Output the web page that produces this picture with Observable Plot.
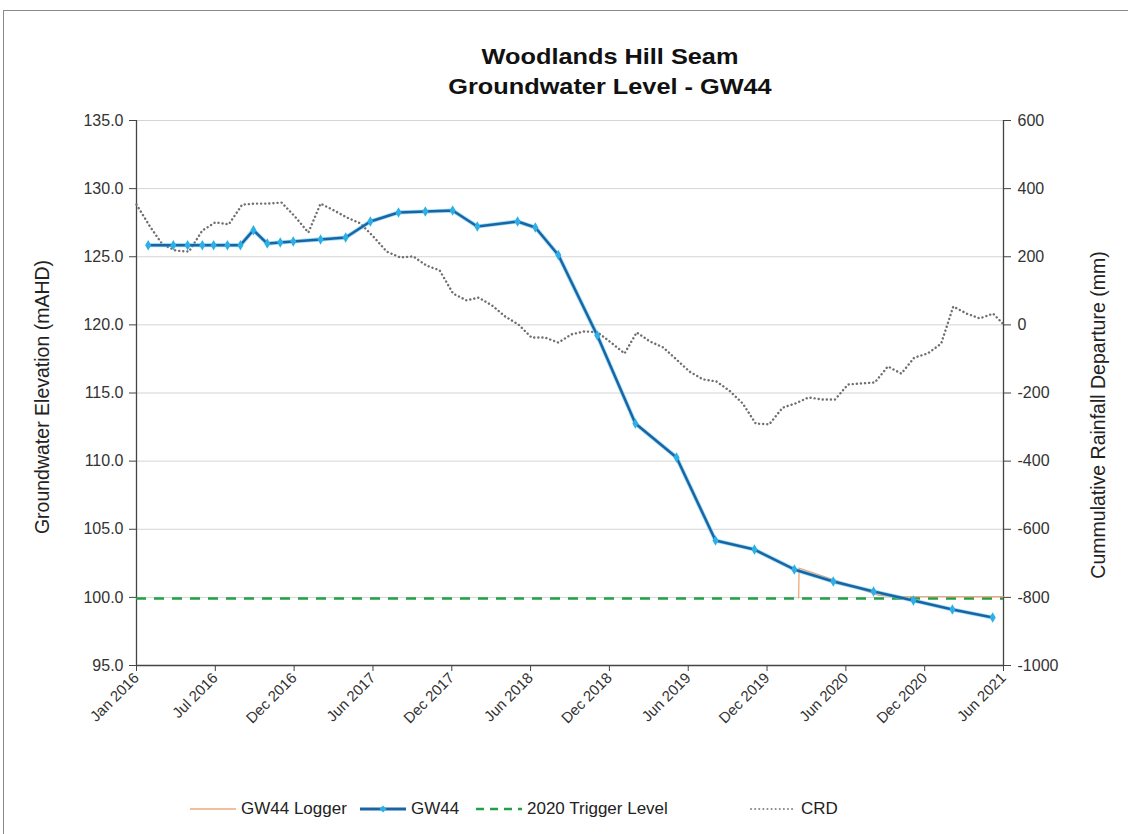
<!DOCTYPE html>
<html>
<head>
<meta charset="utf-8">
<script src="https://cdn.jsdelivr.net/npm/d3@7"></script>
<script src="https://cdn.jsdelivr.net/npm/@observablehq/plot@0.6"></script>
<style>
  html, body { margin:0; padding:0; background:#fff; width:1128px; height:834px; overflow:hidden; font-family:"Liberation Sans", Arial, sans-serif; }
  #frame { position:absolute; left:3px; top:10px; width:1300px; height:1000px; border:1px solid #8a8a8a; }
  #chart { position:absolute; left:0; top:0; }
  .title { position:absolute; left:610px; transform:translateX(-50%) scaleX(1.15); font-weight:bold; font-size:22px; color:#111; white-space:nowrap; }
  .ylab { position:absolute; transform:translate(-50%,-50%) rotate(-90deg); font-size:19.5px; color:#222; white-space:nowrap; }
  .leg { position:absolute; top:799px; display:flex; align-items:center; font-size:17px; color:#222; white-space:nowrap; }
  .leg svg { margin-right:4px; }
</style>
</head>
<body>
<div id="frame"></div>
<div id="chart"></div>
<div class="title" style="top:44px">Woodlands Hill Seam</div>
<div class="title" style="top:74px">Groundwater Level - GW44</div>
<div class="ylab" style="left:42px; top:397px">Groundwater Elevation (mAHD)</div>
<div class="ylab" style="left:1098px; top:415px">Cummulative Rainfall Departure (mm)</div>
<div id="legend"></div>
<script>
// ---- data ----
const gwDates = ["2016-01-28","2016-03-26","2016-04-28","2016-06-01","2016-06-27","2016-07-29","2016-08-28","2016-09-27","2016-10-29","2016-11-28","2016-12-28","2017-03-01","2017-04-28","2017-06-24","2017-08-28","2017-10-29","2017-12-31","2018-02-26","2018-05-30","2018-07-10","2018-09-01","2018-11-30","2019-02-26","2019-06-01","2019-08-30","2019-11-28","2020-02-28","2020-05-28","2020-08-29","2020-11-29","2021-02-27","2021-05-31"];
const gwValues = [125.85,125.85,125.85,125.85,125.85,125.85,125.85,126.95,125.97,126.05,126.12,126.27,126.41,127.59,128.25,128.32,128.39,127.22,127.59,127.15,125.13,119.22,112.76,110.27,104.17,103.51,102.05,101.17,100.43,99.77,99.11,98.52];

const loggerDates = ["2020-03-09","2020-03-10","2020-05-28","2020-08-10","2020-09-10","2020-10-15","2021-06-24"];
const loggerValues = [99.95,102.15,101.3,100.5,100.15,100.08,100.05];

const triggerLevel = 99.92;

const crdStart = "2016-01-01";
const crdValues = [353,289,236,218,215,277,301,295,353,356,356,359,318,271,356,336,315,298,259,215,198,201,174,160,92,72,80,57,25,1,-37,-37,-52,-28,-19,-22,-52,-84,-22,-49,-66,-102,-137,-160,-166,-193,-231,-290,-292,-243,-231,-213,-219,-219,-175,-172,-169,-122,-143,-96,-84,-55,54,33,19,33,3];

const leftTicks = [95,100,105,110,115,120,125,130,135];
const xTickCount = 12;      // ticks every 182 days from Jan 2016
const xTickStepDays = 182;

// ---- build tables ----
const parse = d3.utcParse("%Y-%m-%d");
const gw = gwDates.map((d,i) => ({date: parse(d), value: gwValues[i]}));
const logger = loggerDates.map((d,i) => ({date: parse(d), value: loggerValues[i]}));
const c0 = parse(crdStart);
const crd = crdValues.map((v,i) => ({date: i === crdValues.length-1 ? parse("2021-06-24") : d3.utcMonth.offset(c0, i), value: v}));
const start = parse("2016-01-01");
const xTicks = d3.range(xTickCount).map(i => d3.utcDay.offset(start, i*xTickStepDays));
const end = xTicks[xTicks.length-1];
const crdToLeft = v => 95 + (v + 1000) / 40;   // right axis -1000..600 maps to 95..135
const leftToCrd = d => String(Math.round((d - 95) * 40 - 1000));

const chart = Plot.plot({
  width: 1128,
  height: 780,
  marginTop: 120,
  marginBottom: 115,
  marginLeft: 136,
  marginRight: 125,
  style: {fontFamily: "'Liberation Sans', Arial, sans-serif", fontSize: "15px", color: "#333", background: "transparent"},
  x: {type: "utc", domain: [start, end]},
  y: {domain: [95, 135]},
  marks: [
    Plot.gridY(leftTicks.slice(1), {stroke: "#d4d4d4", strokeOpacity: 1, strokeWidth: 1}),
    Plot.axisY(leftTicks, {anchor: "left", tickFormat: d => d.toFixed(1), tickSize: 7, tickPadding: 6, label: null, stroke: "#444", fontSize: 16}),
    Plot.axisY(leftTicks, {anchor: "right", tickFormat: leftToCrd, tickSize: 7, tickPadding: 7, label: null, stroke: "#444", fontSize: 16}),
    Plot.axisX(xTicks, {tickFormat: d3.utcFormat("%b %Y"), tickRotate: -45, tickSize: 6, tickPadding: 4, label: null, stroke: "#444", fontSize: 15}),
    Plot.ruleX([start, end], {stroke: "#444", strokeWidth: 1.3}),
    Plot.ruleY([95], {stroke: "#444", strokeWidth: 1.3}),
    Plot.line(crd, {x: "date", y: d => crdToLeft(d.value), stroke: "#6f6f6f", strokeWidth: 2.4, strokeDasharray: "0.1,4", strokeLinecap: "round"}),
    Plot.ruleY([triggerLevel], {stroke: "#22A045", strokeWidth: 2.6, strokeDasharray: "10,8"}),
    Plot.line(logger, {x: "date", y: "value", stroke: "#F0A878", strokeWidth: 1.3}),
    Plot.line(gw, {x: "date", y: "value", stroke: "#5cc8f0", strokeWidth: 4.2, strokeOpacity: 0.6}),
    Plot.line(gw, {x: "date", y: "value", stroke: "#1A64A6", strokeWidth: 2.5}),
    Plot.dot(gw, {x: "date", y: "value", symbol: "diamond", r: 3.2, fill: "#2DB0E6", stroke: "none"})
  ]
});
document.getElementById("chart").appendChild(chart);

// ---- legend ----
const legItems = [
  {label: "GW44 Logger", left: 190, svg: '<line x1="0" y1="8" x2="46" y2="8" stroke="#F0A878" stroke-width="1.5"/>'},
  {label: "GW44", left: 360, svg: '<line x1="0" y1="8" x2="46" y2="8" stroke="#1A64A6" stroke-width="2.8"/><path d="M23,4.5L26.5,8L23,11.5L19.5,8Z" fill="#2DB0E6"/>'},
  {label: "2020 Trigger Level", left: 476, svg: '<line x1="0" y1="8" x2="46" y2="8" stroke="#22A045" stroke-width="2.6" stroke-dasharray="8,6"/>'},
  {label: "CRD", left: 750, svg: '<line x1="1" y1="8" x2="46" y2="8" stroke="#8a8a8a" stroke-width="2" stroke-dasharray="0.1,4" stroke-linecap="round"/>'}
];
const legend = document.getElementById("legend");
for (const it of legItems) {
  const el = document.createElement("div");
  el.className = "leg";
  el.style.left = it.left + "px";
  el.innerHTML = '<svg width="47" height="16">' + it.svg + '</svg><span>' + it.label + '</span>';
  legend.appendChild(el);
}
</script>
</body>
</html>
